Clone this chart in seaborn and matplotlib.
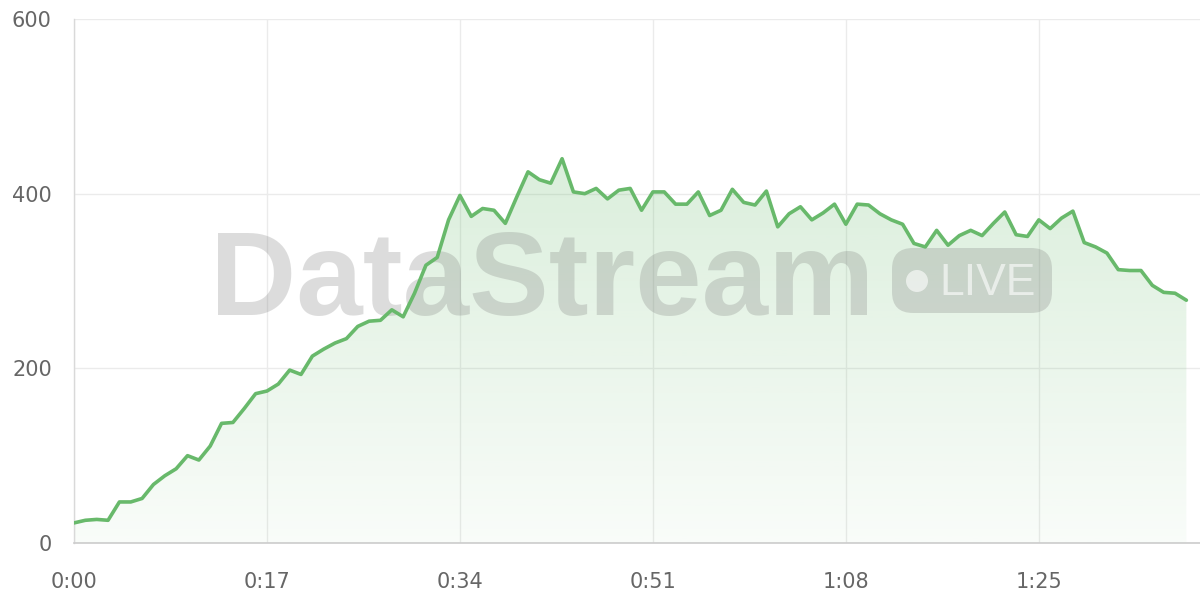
import numpy as np, pandas as pd
import matplotlib as mpl; mpl.use("Agg")
import matplotlib.pyplot as plt
import seaborn as sns
from matplotlib.colors import LinearSegmentedColormap
from matplotlib.patches import FancyBboxPatch, Circle
from matplotlib.transforms import IdentityTransform
from matplotlib.ticker import FuncFormatter

# live stream metric, one sample per second
VALUES=[23,26,27,26,47,47,51,67,77,85,100,95,111,137,138,154,171,174,182,
        198,193,214,222,229,234,248,254,255,267,259,286,318,327,370,398,374,383,381,366,396,425,416,412,
        440,402,400,406,394,404,406,381,402,402,388,388,402,375,381,405,390,387,403,362,377,385,
        370,378,388,365,388,387,377,370,365,343,339,358,341,352,358,352,366,
        379,353,351,370,360,372,380,344,339,332,313,312,312,295,287,286,278]
SECONDS=list(range(len(VALUES)))
XTICKS=[0,17,34,51,68,85]
YTICKS=[0,200,400,600]
GREEN="#68b96b"

sns.set_theme(style="white")
mpl.rcParams.update({"font.family":["DejaVu Sans"],
 "xtick.color":"#666666","ytick.color":"#666666","xtick.labelsize":15,"ytick.labelsize":15})

df=pd.DataFrame({"sec":SECONDS,"val":VALUES})
fig=plt.figure(figsize=(12,6),dpi=100)
ax=fig.add_axes([74/1200,57/600,1-74/1200,(543-19)/600])

# gradient area under the line
poly=ax.fill_between(df.sec,df.val,0,color="none",lw=0)
cm=LinearSegmentedColormap.from_list("g",[(0.4,0.73,0.42,0.04),(0.4,0.73,0.42,0.24)])
im=ax.imshow(np.linspace(0,1,256).reshape(-1,1),extent=[0,max(SECONDS),0,max(VALUES)],
             origin="lower",aspect="auto",cmap=cm,zorder=1)
im.set_clip_path(poly.get_paths()[0],transform=ax.transData)

# watermark (pixel coords, origin bottom-left)
px=IdentityTransform()
ax.text(210,600-315,"DataStream",transform=px,fontsize=86,fontweight="bold",
        family=["Liberation Sans","DejaVu Sans"],color="#777777",alpha=0.25,ha="left",va="baseline",zorder=2)
pill=FancyBboxPatch((892,600-313),160,65,boxstyle="round,pad=0,rounding_size=21",
                    transform=px,fc="#777777",ec="none",alpha=0.25,zorder=2)
ax.add_artist(pill)
ax.add_artist(Circle((917,600-281),11,transform=px,fc="white",ec="none",alpha=0.6,zorder=2.1))
ax.text(939,600-295,"LIVE",transform=px,fontsize=32,color="white",alpha=0.6,
        family=["Liberation Sans","DejaVu Sans"],ha="left",va="baseline",zorder=2.1)

sns.lineplot(data=df,x="sec",y="val",ax=ax,color=GREEN,lw=2.6,zorder=3)

ax.set_xlim(0,99.2); ax.set_ylim(0,600)
ax.set_xticks(XTICKS); ax.set_yticks(YTICKS)
ax.xaxis.set_major_formatter(FuncFormatter(lambda v,p:f"{int(v)//60}:{int(v)%60:02d}"))
ax.set_xlabel(""); ax.set_ylabel("")
ax.grid(True,color="#ebebeb",lw=1); ax.set_axisbelow(True)
ax.tick_params(axis="both",length=11,color="#e4e4e4",width=1)
ax.tick_params(axis="y",pad=5); ax.tick_params(axis="x",pad=10)
for s in ("top","right"): ax.spines[s].set_visible(False)
ax.spines["left"].set_color("#d9d9d9"); ax.spines["bottom"].set_color("#cccccc")
ax.spines["left"].set_linewidth(1); ax.spines["bottom"].set_linewidth(1.2)

fig.savefig("out.png",dpi=100)
